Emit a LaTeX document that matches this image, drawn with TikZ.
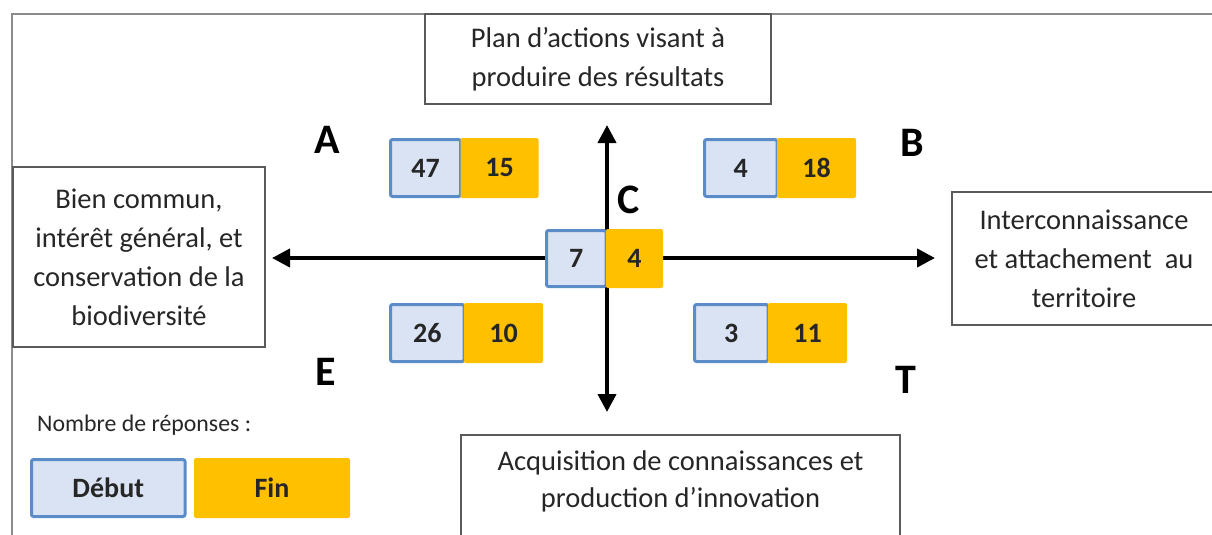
\documentclass[tikz,border=0pt]{standalone}
\usepackage{fontspec}
\setmainfont{Carlito}
\usetikzlibrary{positioning,arrows.meta}

\definecolor{framegray}{HTML}{8C8C8C}
\definecolor{boxgray}{HTML}{5A5A5A}
\definecolor{txtgray}{HTML}{262626}
\definecolor{debutfill}{HTML}{DAE3F3}
\definecolor{debutline}{HTML}{5B8CC8}
\definecolor{finfill}{HTML}{FFC000}

\begin{document}
\begin{tikzpicture}[x=1pt,y=-1pt,
    text box/.style={draw=boxgray,line width=2pt,align=center,text=txtgray,inner sep=0pt,font=\fontsize{28.5}{39}\selectfont},
    debut node/.style={draw=debutline,line width=3pt,fill=debutfill,rounded corners=2pt,inner sep=0pt,outer sep=0pt,minimum height=57pt,text=txtgray,font=\bfseries\fontsize{28}{30}\selectfont},
    fin node/.style={fill=finfill,rounded corners=2pt,inner sep=0pt,outer sep=0pt,minimum height=60pt,text=txtgray,font=\bfseries\fontsize{28}{30}\selectfont},
    letter node/.style={font=\bfseries\fontsize{42}{46}\selectfont,inner sep=0pt},
    axis/.style={line width=4pt,<->,>={Triangle[length=18pt,width=18pt]}}]
    \path[use as bounding box] (0,0) rectangle (1212,535);
    \clip (0,0) rectangle (1212,535);

    % cadre
    \draw[framegray,line width=2.5pt] (12,545) |- (1220,14);

    % axes
    \coordinate (west) at (272,258);
    \coordinate (east) at (935,258);
    \coordinate (north) at (607,125);
    \coordinate (south) at (607,412);
    \draw[axis] (west) -- (east);
    \draw[axis] (north) -- (south);

    % poles
    \node[text box,minimum width=346pt,minimum height=90pt] (plan) at (598,59) {Plan d’actions visant à\\produire des résultats};
    \node[text box,minimum width=252pt,minimum height=180pt] (bien) at (139,257) {Bien commun,\\intérêt général, et\\conservation de la\\biodiversité};
    \node[text box,minimum width=264pt,minimum height=133pt] (inter) at (1084,258.5) {Interconnaissance\\et attachement~ au\\territoire};
    \node[text box,minimum width=439pt,minimum height=120pt,anchor=north] (acq) at (680.5,434) {};
    \node[align=center,text=txtgray,font=\fontsize{28.5}{37}\selectfont] (acqtext) at (680.5,481) {Acquisition de connaissances et\\production d’innovation};

    % reponses
    \node[debut node,minimum width=70pt,anchor=west] (a1) at (390.5,168) {47};
    \node[fin node,minimum width=78pt,right=0pt of a1] (a2) {15};
    \node[debut node,minimum width=72.5pt,anchor=west] (b1) at (704.5,168) {4};
    \node[fin node,minimum width=79pt,right=0pt of b1] (b2) {18};
    \node[debut node,minimum width=59.5pt,minimum height=56pt,anchor=west] (c1) at (546.5,258.5) {7};
    \node[fin node,minimum width=57pt,minimum height=59pt,right=0pt of c1] (c2) {4};
    \node[debut node,minimum width=73.5pt,anchor=west] (e1) at (390.5,333) {26};
    \node[fin node,minimum width=79pt,right=0pt of e1] (e2) {10};
    \node[debut node,minimum width=73.5pt,anchor=west] (t1) at (694.5,333) {3};
    \node[fin node,minimum width=79pt,right=0pt of t1] (t2) {11};

    % lettres
    \node[letter node] (la) at (327,140) {A};
    \node[letter node] (lb) at (912,143) {B};
    \node[letter node] (lc) at (629,200) {C};
    \node[letter node] (le) at (326,372) {E};
    \node[letter node] (lt) at (906,380) {T};

    % legende
    \node[anchor=west,inner sep=0pt,text=txtgray,font=\fontsize{23.8}{28}\selectfont] (nombre) at (37,425) {Nombre de réponses :};
    \node[debut node,minimum width=153.5pt,anchor=west] (debut) at (31.5,488) {Début};
    \node[fin node,minimum width=156pt,right=9pt of debut] (fin) {Fin};
\end{tikzpicture}
\end{document}
